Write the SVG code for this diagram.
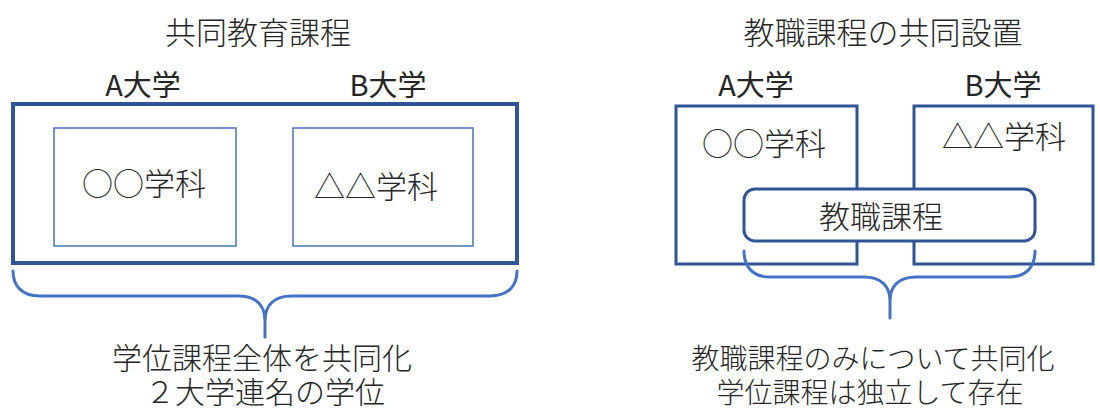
<svg xmlns="http://www.w3.org/2000/svg" width="1100" height="408" viewBox="0 0 1100 408">
<style>
  text { font-family: "Noto Sans CJK JP", "Noto Sans", sans-serif; font-weight: 300; fill: #262626; text-anchor: middle; }
  .t31 { font-size: 31px; }
  .t30 { font-size: 30px; }
  .t29 { font-size: 29px; font-weight: 400; }
  .t28 { font-size: 28px; }
  .outer { fill: none; stroke: #2F5597; stroke-width: 4; }
  .inner { fill: none; stroke: #4A72B4; stroke-width: 1.5; }
  .uni { fill: #ffffff; stroke: #2F5597; stroke-width: 3; }
  .brace { fill: none; stroke: #4472C4; stroke-width: 3; stroke-linecap: round; }
</style>
<rect width="1100" height="408" fill="#ffffff"/>

<!-- Left panel -->
<g id="left-title"><text class="t31" x="258" y="44">共同教育課程</text></g>
<g id="left-a-label"><text class="t29" x="143" y="96">A大学</text></g>
<g id="left-b-label"><text class="t29" x="388" y="96">B大学</text></g>
<g id="left-joint"><rect class="outer" x="13" y="104" width="504" height="159"/></g>
<g id="left-dept-a">
  <rect class="inner" x="54" y="128" width="182" height="118"/>
  <text class="t31" x="144" y="195">○○学科</text>
</g>
<g id="left-dept-b">
  <rect class="inner" x="293" y="128" width="180" height="118"/>
  <text class="t31" x="376" y="198">△△学科</text>
</g>
<g id="left-caption">
  <text class="t30" x="262" y="369">学位課程全体を共同化</text>
  <text class="t30" x="265" y="403">２大学連名の学位</text>
</g>

<!-- Right panel -->
<g id="right-title"><text class="t31" x="883" y="44">教職課程の共同設置</text></g>
<g id="right-a-label"><text class="t29" x="756" y="96">A大学</text></g>
<g id="right-b-label"><text class="t29" x="1003" y="96">B大学</text></g>
<g id="right-univ-a">
  <rect class="uni" x="676" y="106" width="181" height="158"/>
  <text class="t31" x="764" y="155">○○学科</text>
</g>
<g id="right-univ-b">
  <rect class="uni" x="914" y="106" width="179" height="158"/>
  <text class="t31" x="1004" y="148">△△学科</text>
</g>
<g id="right-teacher-course">
  <rect class="uni" x="744" y="189" width="291" height="52" rx="11" ry="11"/>
  <text class="t31" x="881" y="228">教職課程</text>
</g>
<g id="right-caption">
  <text class="t28" x="873" y="369">教職課程のみについて共同化</text>
  <text class="t28" x="870" y="403">学位課程は独立して存在</text>
</g>

<!-- Connectors (braces) -->
<g id="connectors">
  <path class="brace" d="M13,271 C13,286 22,296 40,296 L238,296 C256,296 265,305 265,321 L265,337 M265,321 C265,305 274,296 292,296 L490,296 C508,296 517,286 517,271"/>
  <path class="brace" d="M744,251 C744,266 752,277 770,277 L864,277 C881,277 890,286 890,301 L890,318 M890,301 C890,286 899,277 916,277 L1009,277 C1027,277 1035,266 1035,251"/>
</g>
</svg>
